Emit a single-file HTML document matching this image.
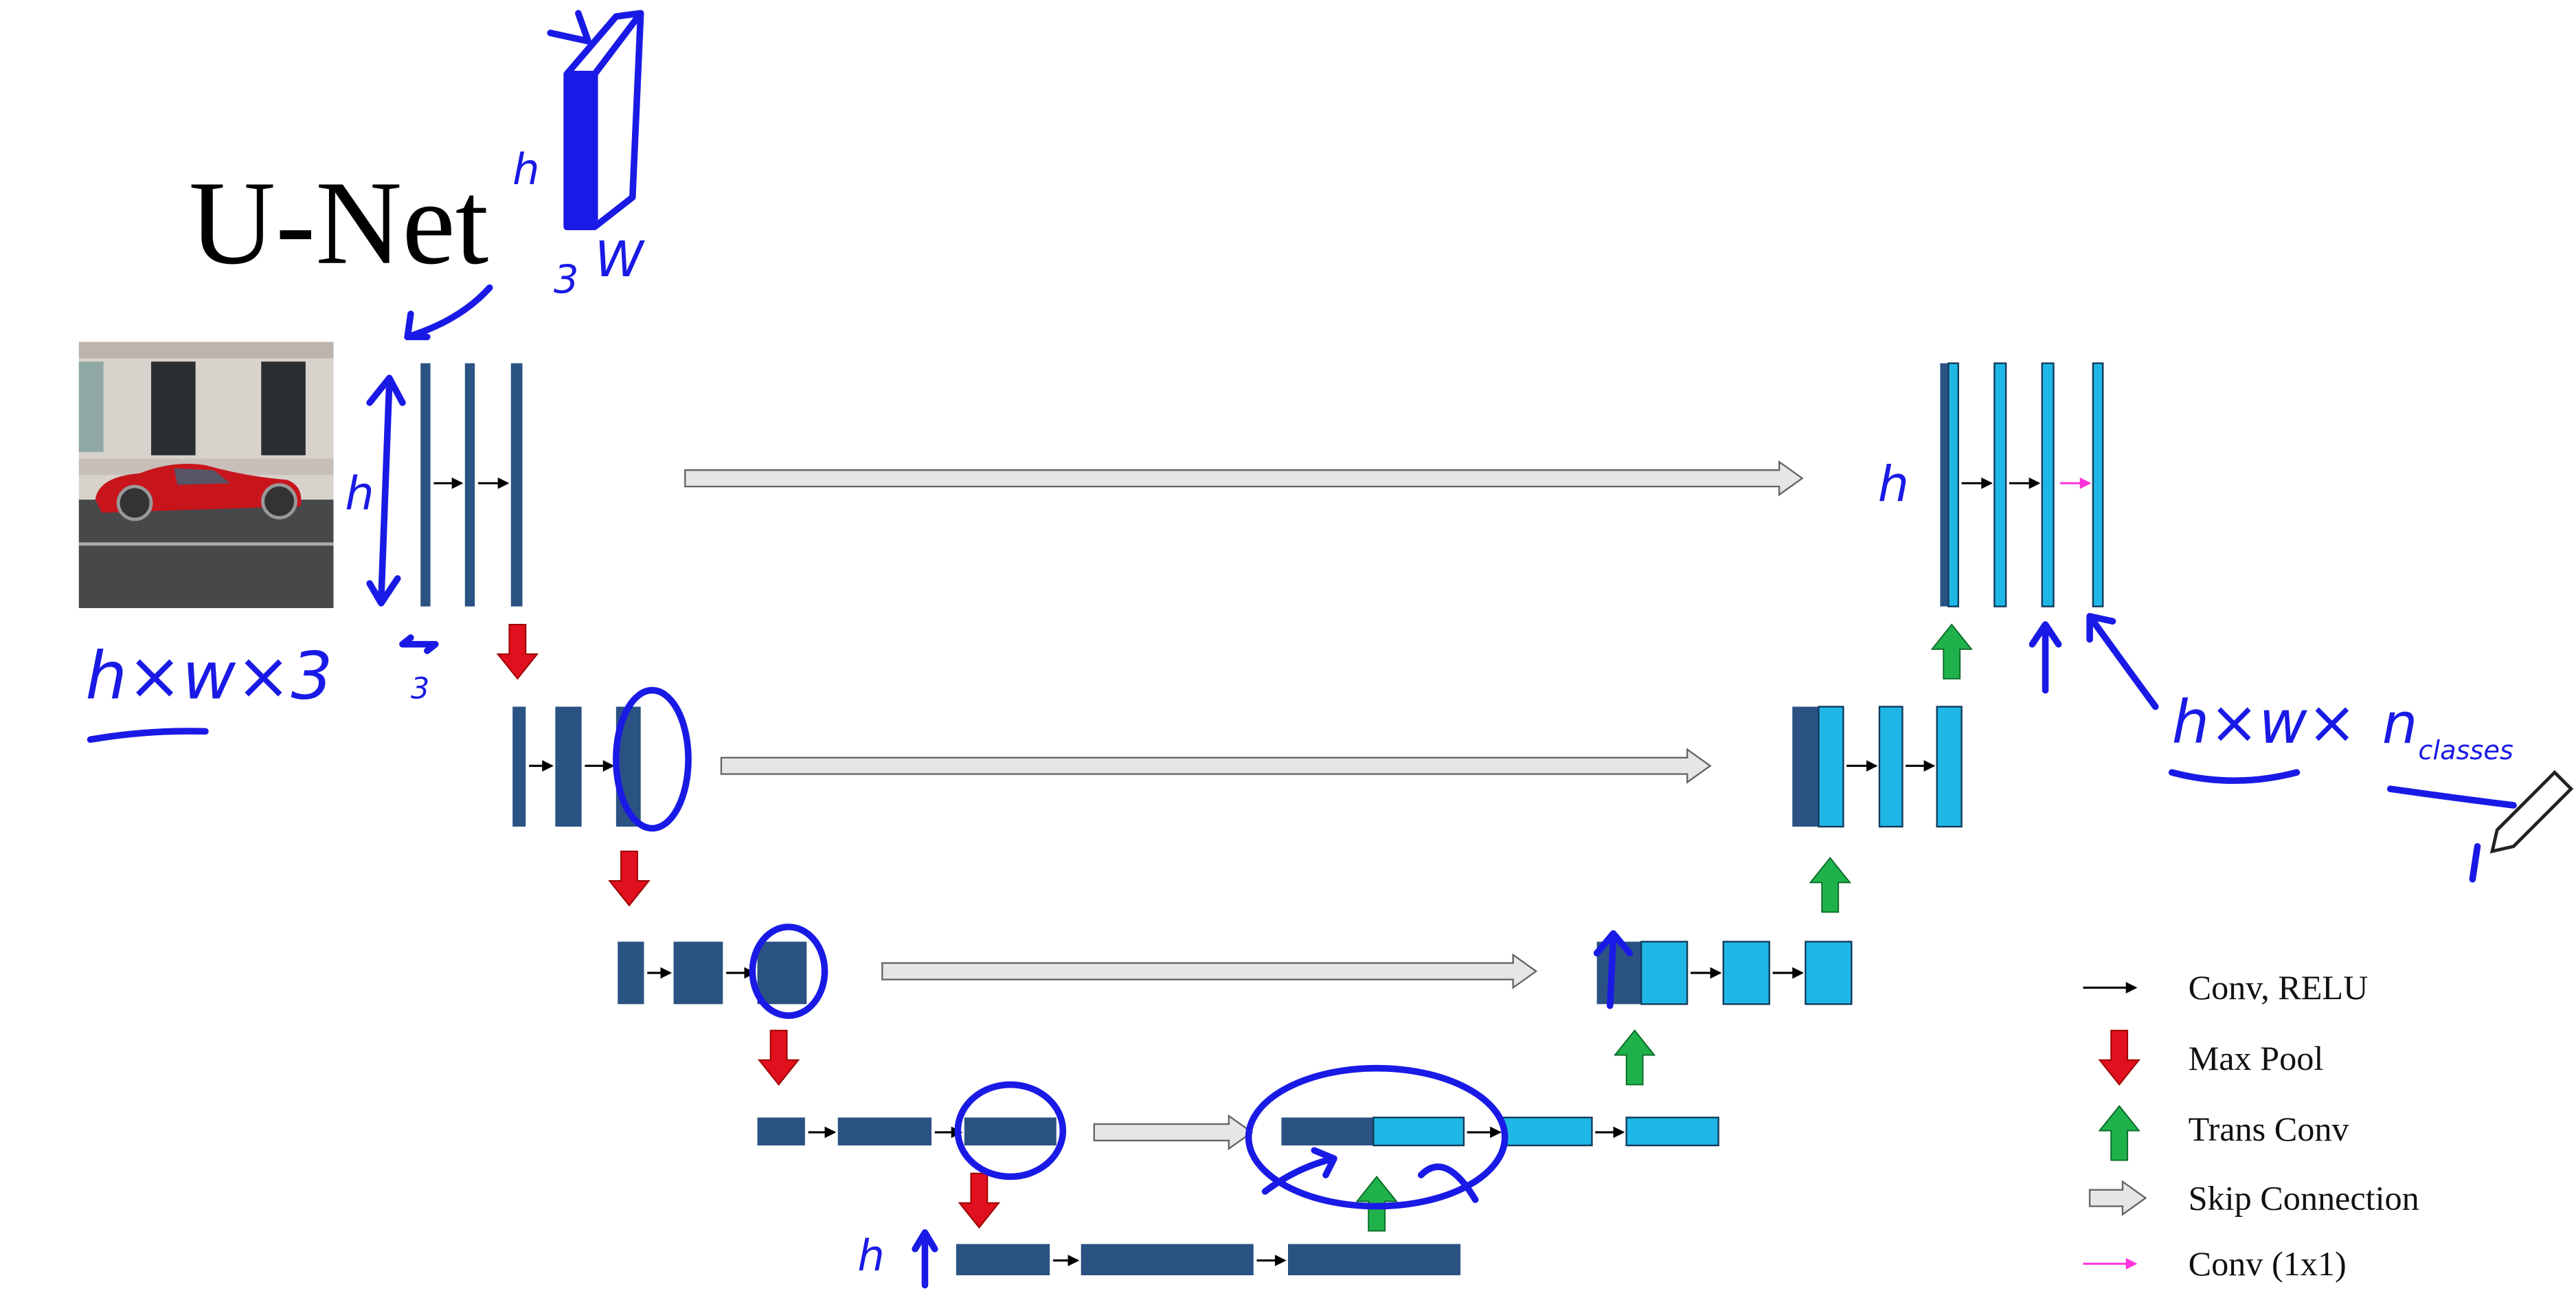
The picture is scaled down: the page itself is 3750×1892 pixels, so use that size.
<!DOCTYPE html>
<html><head><meta charset="utf-8"><style>
html,body{margin:0;padding:0;background:#fff;width:3750px;height:1892px;overflow:hidden}
svg{display:block}
.blk{fill:#2a5283}
.lt{fill:#1fb8e6;stroke:#123a5c;stroke-width:1}
.hand{fill:none;stroke:#1a1ae6;stroke-width:4;stroke-linecap:round;stroke-linejoin:round}
.ht{fill:#1a1ae6;font-family:"DejaVu Sans",sans-serif;font-style:italic}
.leg{font-family:"Liberation Serif",serif;font-size:21px;fill:#111}
</style></head><body>
<svg width="3750" height="1892" viewBox="0 0 1568 791" xmlns="http://www.w3.org/2000/svg">
<defs>
<marker id="ah" markerWidth="7" markerHeight="7" refX="6" refY="3.5" orient="auto" markerUnits="userSpaceOnUse"><path d="M0,0 L7,3.5 L0,7 z" fill="#000"/></marker>
<marker id="ahp" markerWidth="7" markerHeight="7" refX="6" refY="3.5" orient="auto" markerUnits="userSpaceOnUse"><path d="M0,0 L7,3.5 L0,7 z" fill="#ff33dd"/></marker>
<g id="down"><path d="M-5,0 h10 v18 h7 l-12,15 l-12,-15 h7 z" fill="#e0101e" stroke="#900" stroke-width="0.8"/></g>
<g id="up"><path d="M-5,33 h10 v-18 h7 l-12,-15 l-12,15 h7 z" fill="#1fb24a" stroke="#0b6b2a" stroke-width="0.8"/></g>
</defs>
<text x="115" y="160" font-family="Liberation Serif,serif" font-size="73" fill="#000">U-Net</text>

<g>
<rect x="48" y="208" width="155" height="162" fill="#d8d2cc"/>
<rect x="48" y="208" width="155" height="10" fill="#bdb5ad"/>
<rect x="48" y="220" width="15" height="55" fill="#8fa8a4"/>
<rect x="92" y="220" width="27" height="57" fill="#2a2e30"/>
<rect x="159" y="220" width="27" height="57" fill="#2a2e30"/>
<rect x="48" y="279" width="155" height="10" fill="#c7bfb8"/>
<rect x="48" y="304" width="155" height="66" fill="#47484a"/>
<rect x="48" y="330" width="155" height="2" fill="#aaa"/>
<path d="M58,304 Q60,290 85,288 Q105,280 125,283 Q150,290 175,292 Q185,296 183,308 L62,312 Z" fill="#c8151c"/>
<path d="M106,285 L130,286 L140,294 L108,295 Z" fill="#556"/>
<circle cx="82" cy="306" r="10" fill="#333" stroke="#999" stroke-width="2"/>
<circle cx="170" cy="305" r="10" fill="#333" stroke="#999" stroke-width="2"/>
</g>

<g>
<rect class="blk" x="256" y="221" width="6" height="148"/><rect class="blk" x="283" y="221" width="6" height="148"/><rect class="blk" x="311" y="221" width="7" height="148"/>
<line x1="264" y1="294" x2="281" y2="294" stroke="#000" stroke-width="1.3" marker-end="url(#ah)"/>
<line x1="291" y1="294" x2="309" y2="294" stroke="#000" stroke-width="1.3" marker-end="url(#ah)"/>
</g>
<use href="#down" x="315" y="380"/>
<g>
<rect class="blk" x="312" y="430" width="8" height="73"/><rect class="blk" x="338" y="430" width="16" height="73"/><rect class="blk" x="375" y="430" width="15" height="73"/>
<line x1="322" y1="466" x2="336" y2="466" stroke="#000" stroke-width="1.3" marker-end="url(#ah)"/>
<line x1="356" y1="466" x2="373" y2="466" stroke="#000" stroke-width="1.3" marker-end="url(#ah)"/>
</g>
<use href="#down" x="383" y="518"/>
<g>
<rect class="blk" x="376" y="573" width="16" height="38"/><rect class="blk" x="410" y="573" width="30" height="38"/><rect class="blk" x="461" y="573" width="30" height="38"/>
<line x1="394" y1="592" x2="408" y2="592" stroke="#000" stroke-width="1.3" marker-end="url(#ah)"/>
<line x1="442" y1="592" x2="459" y2="592" stroke="#000" stroke-width="1.3" marker-end="url(#ah)"/>
</g>
<use href="#down" x="474" y="627"/>
<g>
<rect class="blk" x="461" y="680" width="29" height="17"/><rect class="blk" x="510" y="680" width="57" height="17"/><rect class="blk" x="587" y="680" width="56" height="17"/>
<line x1="492" y1="689" x2="508" y2="689" stroke="#000" stroke-width="1.3" marker-end="url(#ah)"/>
<line x1="569" y1="689" x2="585" y2="689" stroke="#000" stroke-width="1.3" marker-end="url(#ah)"/>
</g>
<use href="#down" x="596" y="714"/>
<g>
<rect class="blk" x="582" y="757" width="57" height="19"/><rect class="blk" x="658" y="757" width="105" height="19"/><rect class="blk" x="784" y="757" width="105" height="19"/>
<line x1="641" y1="767" x2="656" y2="767" stroke="#000" stroke-width="1.3" marker-end="url(#ah)"/>
<line x1="765" y1="767" x2="782" y2="767" stroke="#000" stroke-width="1.3" marker-end="url(#ah)"/>
</g>
<use href="#up" x="838" y="716"/>
<g>
<rect class="blk" x="780" y="680" width="56" height="17"/><rect class="lt" x="836" y="680" width="55" height="17"/><rect class="lt" x="915" y="680" width="54" height="17"/><rect class="lt" x="990" y="680" width="56" height="17"/>
<line x1="893" y1="689" x2="913" y2="689" stroke="#000" stroke-width="1.3" marker-end="url(#ah)"/>
<line x1="971" y1="689" x2="988" y2="689" stroke="#000" stroke-width="1.3" marker-end="url(#ah)"/>
</g>
<use href="#up" x="995" y="627"/>
<g>
<rect class="blk" x="972" y="573" width="27" height="38"/><rect class="lt" x="999" y="573" width="28" height="38"/><rect class="lt" x="1049" y="573" width="28" height="38"/><rect class="lt" x="1099" y="573" width="28" height="38"/>
<line x1="1029" y1="592" x2="1047" y2="592" stroke="#000" stroke-width="1.3" marker-end="url(#ah)"/>
<line x1="1079" y1="592" x2="1097" y2="592" stroke="#000" stroke-width="1.3" marker-end="url(#ah)"/>
</g>
<use href="#up" x="1114" y="522"/>
<g>
<rect class="blk" x="1091" y="430" width="16" height="73"/><rect class="lt" x="1107" y="430" width="15" height="73"/><rect class="lt" x="1144" y="430" width="14" height="73"/><rect class="lt" x="1179" y="430" width="15" height="73"/>
<line x1="1124" y1="466" x2="1142" y2="466" stroke="#000" stroke-width="1.3" marker-end="url(#ah)"/>
<line x1="1160" y1="466" x2="1177" y2="466" stroke="#000" stroke-width="1.3" marker-end="url(#ah)"/>
</g>
<use href="#up" x="1188" y="380"/>
<g>
<rect class="blk" x="1181" y="221" width="5" height="148"/><rect class="lt" x="1186" y="221" width="6" height="148"/><rect class="lt" x="1214" y="221" width="7" height="148"/><rect class="lt" x="1243" y="221" width="7" height="148"/><rect class="lt" x="1274" y="221" width="6" height="148"/>
<line x1="1194" y1="294" x2="1212" y2="294" stroke="#000" stroke-width="1.3" marker-end="url(#ah)"/>
<line x1="1223" y1="294" x2="1241" y2="294" stroke="#000" stroke-width="1.3" marker-end="url(#ah)"/>
<line x1="1254" y1="294" x2="1272" y2="294" stroke="#ff33dd" stroke-width="1.3" marker-end="url(#ahp)"/>
</g>
<g fill="#e6e6e6" stroke="#666" stroke-width="1">
<path d="M417,286 H1083 V281 L1097,291 L1083,301 V296 H417 Z"/>
<path d="M439,461 H1027 V456 L1041,466 L1027,476 V471 H439 Z"/>
<path d="M537,586 H921 V581 L935,591 L921,601 V596 H537 Z"/>
<path d="M666,684 H748 V679 L762,689 L748,699 V694 H666 Z"/>
</g>
<g>
<line x1="1268" y1="601" x2="1300" y2="601" stroke="#000" stroke-width="1.3" marker-end="url(#ah)"/>
<text class="leg" x="1332" y="608">Conv, RELU</text>
<use href="#down" x="1290" y="627"/>
<text class="leg" x="1332" y="651">Max Pool</text>
<use href="#up" x="1290" y="673"/>
<text class="leg" x="1332" y="694">Trans Conv</text>
<path d="M1272,724 H1292 V719 L1306,729 L1292,739 V734 H1272 Z" fill="#e6e6e6" stroke="#666"/>
<text class="leg" x="1332" y="736">Skip Connection</text>
<line x1="1268" y1="769" x2="1300" y2="769" stroke="#ff33dd" stroke-width="1.3" marker-end="url(#ahp)"/>
<text class="leg" x="1332" y="776">Conv (1x1)</text>
</g>
<g>
<path class="hand" d="M345,45 L375,10 L390,8 L385,120 L362,138 L345,138 Z M345,45 L362,45 L362,138 M362,45 L390,8" style="stroke-width:4"/>
<path class="hand" d="M348,48 h12 v88 h-12 z" style="fill:#1a1ae6"/>
<path class="hand" d="M335,20 L358,25 L352,8"/>
<text class="ht" x="312" y="112" font-size="26">h</text>
<text class="ht" x="337" y="178" font-size="24">3</text>
<text class="ht" x="362" y="168" font-size="30">W</text>
<path class="hand" d="M298,175 Q280,195 248,205 M248,205 l2,-14 M248,205 l12,0"/>
<path class="hand" d="M237,232 L232,365 M225,245 L237,230 L245,245 M225,355 L232,367 L242,352"/>
<text class="ht" x="210" y="310" font-size="28">h</text>
<path class="hand" d="M245,392 h20 M245,392 l5,-4 M265,392 l-5,4"/>
<text class="ht" x="250" y="425" font-size="18">3</text>
<text class="ht" x="52" y="425" font-size="40">h×w×3</text>
<path class="hand" d="M55,450 Q90,444 125,445"/>
<ellipse class="hand" cx="397" cy="462" rx="22" ry="42"/>
<ellipse class="hand" cx="480" cy="591" rx="22" ry="27"/>
<path class="hand" d="M980,612 L982,570 M972,580 L982,568 L992,580"/>
<ellipse class="hand" cx="615" cy="688" rx="32" ry="28"/>
<ellipse class="hand" cx="838" cy="692" rx="78" ry="42"/>
<path class="hand" d="M770,725 Q790,710 812,705 M800,700 l12,5 l-5,10 M865,715 Q880,700 898,730"/>
<text class="ht" x="1143" y="305" font-size="30">h</text>
<path class="hand" d="M1245,420 L1245,382 M1237,392 L1245,380 L1253,392"/>
<path class="hand" d="M1312,430 Q1290,400 1272,375 M1272,375 l0,14 M1272,375 l14,3"/>
<text class="ht" x="1322" y="452" font-size="36">h×w×</text>
<text class="ht" x="1450" y="452" font-size="34">n</text>
<text class="ht" x="1472" y="462" font-size="16">classes</text>
<path class="hand" d="M1322,470 Q1360,480 1398,470"/>
<path class="hand" d="M1455,480 Q1490,485 1530,490"/>
<text class="ht" x="522" y="773" font-size="26">h</text>
<path class="hand" d="M563,752 L563,782 M557,760 L563,750 L569,760"/>
<path class="hand" d="M1505,535 L1508,515"/>
</g>
<g>
<path d="M1520,505 L1555,470 L1565,480 L1530,515 L1517,518 Z" fill="#fff" stroke="#222" stroke-width="2"/>
</g>
</svg>
</body></html>
